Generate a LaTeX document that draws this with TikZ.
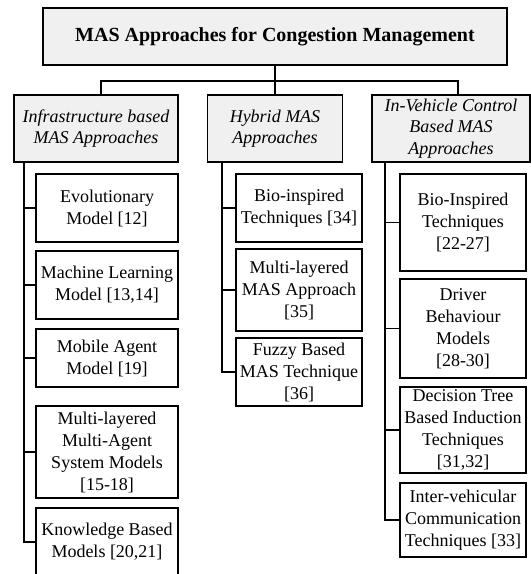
\documentclass[tikz,border=0pt]{standalone}
\usepackage{fontspec}
\setmainfont{Liberation Serif}
\definecolor{boxgray}{RGB}{240,240,240}

\begin{document}
\begin{tikzpicture}[x=1pt,y=-1pt,line width=1.5pt]

%
% Styles
%
\tikzstyle{topic} = [rectangle,draw,fill=boxgray,minimum width=464pt,minimum height=57pt,font=\fontsize{20}{24}\selectfont\bfseries]
\tikzstyle{approach} = [rectangle,draw,fill=boxgray,minimum height=67pt,inner sep=0pt,align=center,font=\fontsize{18}{21.5}\selectfont\itshape]
\tikzstyle{method} = [rectangle,draw,minimum width=126pt,inner sep=0pt,align=center,font=\fontsize{18}{22}\selectfont]
\tikzstyle{widemethod} = [method,minimum width=142pt]

\useasboundingbox (0,0) rectangle (531,574);

\node[topic] (top) at (275, 36.5) {MAS Approaches for Congestion Management};

\node[approach,minimum width=164pt] (infra)  at ( 96, 128.5) {Infrastructure based\\MAS Approaches};
\node[approach,minimum width=135pt] (hybrid) at (275, 128.5) {Hybrid MAS\\Approaches};
\node[approach,minimum width=158pt] (invc)   at (451, 128.5) {In-Vehicle Control\\Based MAS\\Approaches};

% infrastructure based
\node[widemethod,minimum height=68pt] (evo)    at (107, 208) {Evolutionary\\Model [12]};
\node[widemethod,minimum height=68pt] (ml)     at (107, 285) {Machine Learning\\Model [13,14]};
\node[widemethod,minimum height=58pt] (mobile) at (107, 358) {Mobile Agent\\Model [19]};
\node[widemethod,minimum height=92pt] (multi)  at (107, 452) {Multi-layered\\Multi-Agent\\System Models\\{[15-18]}};
\node[widemethod,minimum height=68pt] (know)   at (107, 542) {Knowledge Based\\Models [20,21]};

% hybrid
\node[method,minimum height=68pt] (bioh)  at (299, 208) {Bio-inspired\\Techniques [34]};
\node[method,minimum height=82pt] (mlmas) at (299, 290) {Multi-layered\\MAS Approach\\{[35]}};
\node[method,minimum height=68pt] (fuzzy) at (299, 372) {Fuzzy Based\\MAS Technique\\{[36]}};

% in-vehicle control
\node[method,minimum height=97pt] (biov)   at (463, 222.5) {Bio-Inspired\\Techniques\\{[22-27]}};
\node[method,minimum height=99pt] (driver) at (463, 328.5) {Driver\\Behaviour\\Models\\{[28-30]}};
\node[method,minimum height=86pt] (dtree)  at (463, 430)   {Decision Tree\\Based Induction\\Techniques\\{[31,32]}};
\node[method,minimum height=74pt] (inter)  at (463, 520)   {Inter-vehicular\\Communication\\Techniques [33]};

\draw (top.south) -- ++(0,15) -| ([xshift=5pt]infra.north);
\draw (top.south) -- ++(0,15) -| ([xshift=7pt]invc.north);
\draw (top.south) -- (hybrid.north);

\draw ([xshift=-72pt]infra.south) |- (evo.west);
\draw ([xshift=-72pt]infra.south) |- (ml.west);
\draw ([xshift=-72pt]infra.south) |- (mobile.west);
\draw ([xshift=-72pt]infra.south) |- (multi.west);
\draw ([xshift=-72pt]infra.south) |- (know.west);

\draw ([xshift=-53pt]hybrid.south) |- (bioh.west);
\draw ([xshift=-53pt]hybrid.south) |- (mlmas.west);
\draw ([xshift=-53pt]hybrid.south) |- (fuzzy.west);

\draw ([xshift=-66pt]invc.south) |- (biov.west);
\draw ([xshift=-66pt]invc.south) |- (driver.west);
\draw ([xshift=-66pt]invc.south) |- (dtree.west);
\draw ([xshift=-66pt]invc.south) |- (inter.west);

\end{tikzpicture}
\end{document}
